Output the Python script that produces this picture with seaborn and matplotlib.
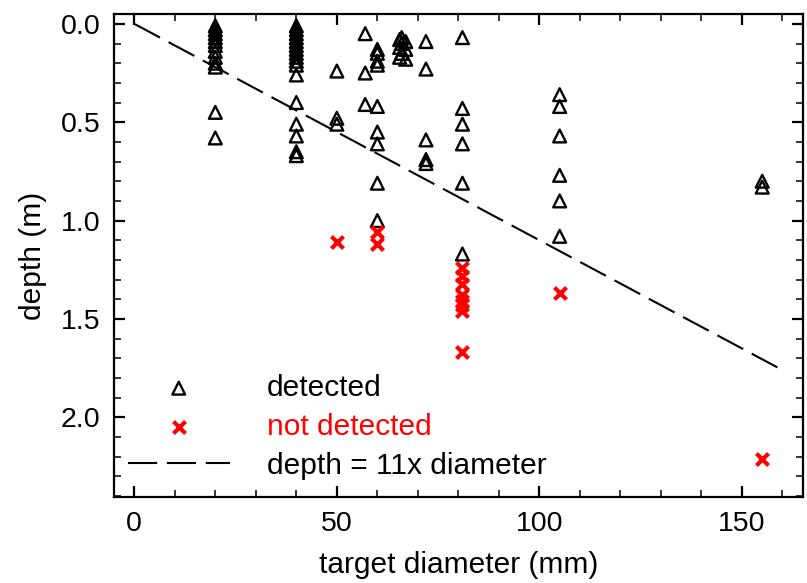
import numpy as np
import pandas as pd
import matplotlib
matplotlib.use("Agg")
import matplotlib.pyplot as plt
import seaborn as sns
from matplotlib.ticker import MultipleLocator, FormatStrFormatter

# Detected targets: diameter (mm) and burial depth (m)
det_diam = [20] * 12 + [40] * 17 + [50] * 3 + [57] * 3 + [60] * 9 \
    + [65.5] * 3 + [66] * 3 + [67] * 3 + [72] * 5 + [81] * 6 + [105] * 6 + [155] * 2
det_depth = [0.01, 0.03, 0.05, 0.07, 0.09, 0.11, 0.14, 0.17, 0.20, 0.22, 0.45, 0.58,
             0.01, 0.03, 0.05, 0.07, 0.09, 0.11, 0.13, 0.15, 0.17, 0.19, 0.21, 0.26,
             0.40, 0.51, 0.57, 0.65, 0.67,
             0.24, 0.48, 0.51,
             0.05, 0.25, 0.41,
             0.13, 0.15, 0.19, 0.21, 0.42, 0.55, 0.61, 0.81, 1.00,
             0.08, 0.12, 0.17,
             0.07, 0.10, 0.15,
             0.09, 0.13, 0.18,
             0.09, 0.23, 0.59, 0.69, 0.71,
             0.07, 0.43, 0.51, 0.61, 0.81, 1.17,
             0.36, 0.42, 0.57, 0.77, 0.90, 1.08,
             0.80, 0.83]

# Targets that were missed
nd_diam = [50, 60, 60, 81, 81, 81, 81, 81, 81, 81, 81, 105, 155]
nd_depth = [1.11, 1.06, 1.12, 1.24, 1.28, 1.32, 1.38, 1.41, 1.43, 1.46, 1.67, 1.37, 2.21]

# Rule of thumb: detection depth = 11 x diameter
rule_diam = np.array([0, 160])
rule_factor = 11
rule_depth = rule_factor * rule_diam / 1000.0

det = pd.DataFrame({"diameter": det_diam, "depth": det_depth})
nd = pd.DataFrame({"diameter": nd_diam, "depth": nd_depth})
rule = pd.DataFrame({"diameter": rule_diam, "depth": rule_depth})

sns.set_theme(style="ticks")
plt.rcParams["font.family"] = ["Liberation Sans", "DejaVu Sans"]
plt.rcParams["lines.scale_dashes"] = False

fig = plt.figure(figsize=(8.07, 5.83), dpi=100)
ax = fig.add_axes([0.1413, 0.1475, 0.8534, 0.8285])

sns.scatterplot(data=det, x="diameter", y="depth", ax=ax, marker="^",
                s=85, facecolor="none", edgecolor="black", linewidth=1.7,
                label="detected", zorder=3)
sns.scatterplot(data=nd, x="diameter", y="depth", ax=ax, marker="x",
                s=75, color="red", linewidth=3.0, label="not detected", zorder=3)
sns.lineplot(data=rule, x="diameter", y="depth", ax=ax, color="black",
             linewidth=1.5, dashes=False, label="depth = 11x diameter", zorder=2)
ax.lines[-1].set_dashes((21, 7))

ax.set_xlim(-5, 165)
ax.set_ylim(2.405, -0.05)

ax.xaxis.set_major_locator(MultipleLocator(50))
ax.xaxis.set_minor_locator(MultipleLocator(10))
ax.yaxis.set_major_locator(MultipleLocator(0.5))
ax.yaxis.set_minor_locator(MultipleLocator(0.1))
ax.yaxis.set_major_formatter(FormatStrFormatter("%.1f"))

ax.tick_params(which="both", direction="in", top=True, right=True,
               labelsize=20.5, colors="black", labelcolor="black")
ax.tick_params(which="major", length=8, width=1.6, pad=10)
ax.tick_params(which="minor", length=5, width=1.1)
for sp in ax.spines.values():
    sp.set_linewidth(1.6)
    sp.set_color("black")

ax.set_xlabel("target diameter (mm)", fontsize=21.5, labelpad=10, color="black")
ax.set_ylabel("depth (m)", fontsize=21.5, labelpad=10, color="black")

leg = ax.legend(loc="upper left", bbox_to_anchor=(128 / 807, 1 - 374 / 583),
                bbox_transform=fig.transFigure, frameon=False,
                fontsize=21.5, handlelength=3.4, handletextpad=1.25,
                labelspacing=0.36, borderpad=0, borderaxespad=0)
for txt, col in zip(leg.get_texts(), ["black", "red", "black"]):
    txt.set_color(col)

fig.savefig("out.png", dpi=100)
